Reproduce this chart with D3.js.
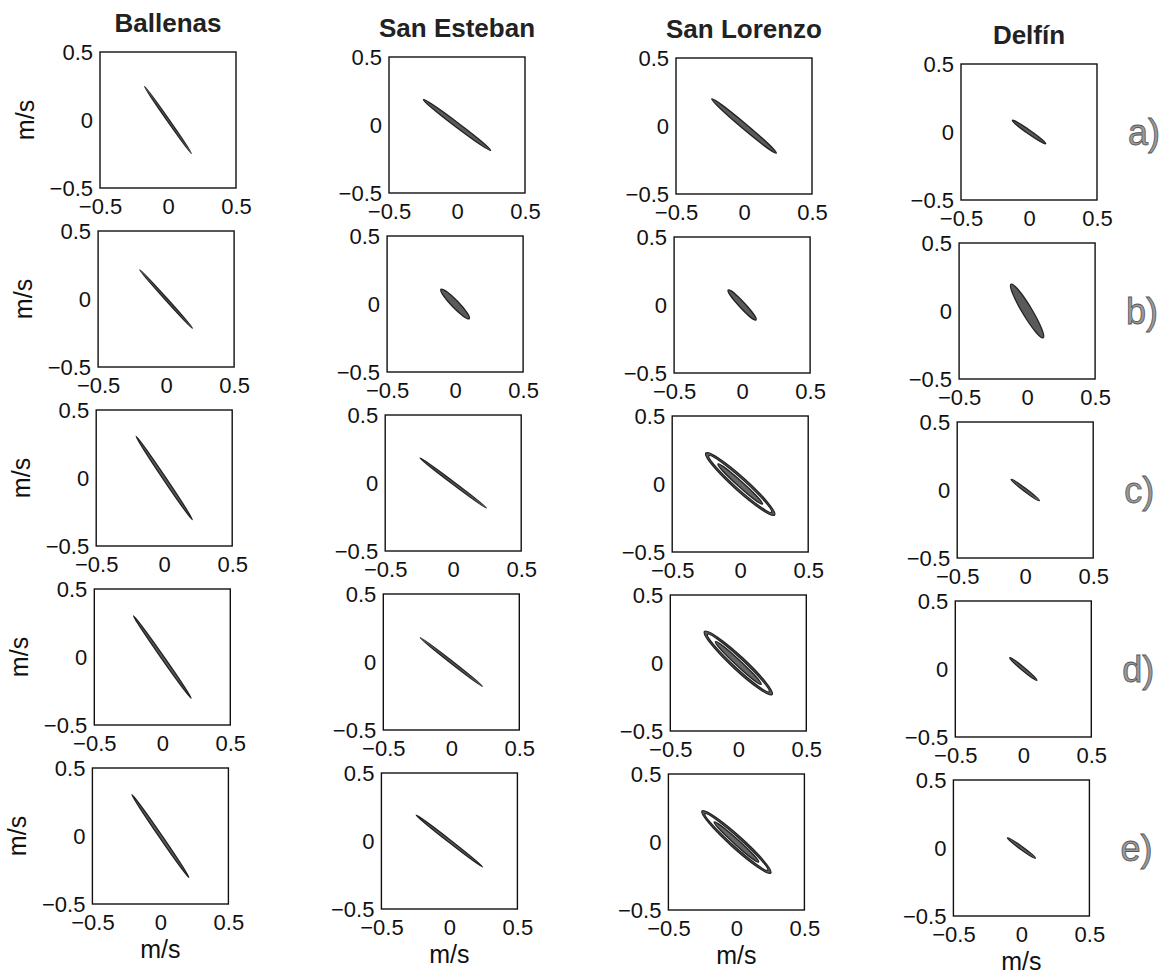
<!DOCTYPE html>
<meta charset="utf-8">
<style>
    body { margin: 0; background: #fff; }
    svg { display: block; }
    text { font-family: "Liberation Sans", Arial, sans-serif; fill: #111; }
    .tick text { font-size: 22px; }
    .title { font-size: 26px; font-weight: bold; fill: #222; }
    .unit { font-size: 25px; }
    .rowlab { font-size: 36px; fill: #9a9a9a; stroke: #555; stroke-width: 0.8px; }
</style>
<body>
<script src="https://cdn.jsdelivr.net/npm/d3@7"></script>
<script>
// sites (columns) and cases (rows)
var sites = ["Ballenas", "San Esteban", "San Lorenzo", "Delfín"];
var rowLabels = ["a)", "b)", "c)", "d)", "e)"];
var tickValues = [-0.5, 0, 0.5];

// ellipse semi-major axis (m/s), [site][row]
var semiMajor = [
    [0.30, 0.29, 0.37, 0.37, 0.37],
    [0.31, 0.15, 0.305, 0.29, 0.31],
    [0.31, 0.15, 0.34, 0.34, 0.34],
    [0.15, 0.23, 0.13, 0.13, 0.127]
];
// ellipse semi-minor axis (m/s)
var semiMinor = [
    [0.008, 0.008, 0.011, 0.011, 0.011],
    [0.017, 0.027, 0.009, 0.009, 0.01],
    [0.02, 0.022, 0.05, 0.05, 0.046],
    [0.014, 0.036, 0.011, 0.012, 0.011]
];
// inclination, degrees counterclockwise from east
var inclination = [
    [-55, -48, -56, -55, -55.5],
    [-37, -46, -37, -38, -38],
    [-40, -47, -42, -43, -42],
    [-35, -59, -37, -40, -36]
];
// inner ellipses seen inside the San Lorenzo c)-e) panels
var lorenzoInnerMajor = [[], [], [0.31, 0.22], [0.31, 0.23], [0.31, 0.22]];
var lorenzoInnerMinor = [[], [], [0.036, 0.02], [0.036, 0.021], [0.033, 0.019]];

var width = 1172, height = 976;
var box = 136;
// scanned page is a bit skewed, so every column has its own origin
var colLeft = [100, 389, 676, 961],
    colTop = [52, 57, 58, 64],
    rowStep = 179,
    rowDrift = -1.9;

var svg = d3.select("body").append("svg")
    .attr("width", width)
    .attr("height", height);

var x = d3.scaleLinear().domain([-0.5, 0.5]).range([0, box]);
var y = d3.scaleLinear().domain([-0.5, 0.5]).range([box, 0]);
var fmt = d3.format("");

sites.forEach(function(site, c) {
    // column title
    svg.append("text")
        .attr("class", "title")
        .attr("x", colLeft[c] + box / 2)
        .attr("y", colTop[c] - 20)
        .attr("text-anchor", "middle")
        .text(site);

    rowLabels.forEach(function(lab, r) {
        var px = colLeft[c] + rowDrift * r,
            py = colTop[c] + rowStep * r;
        var g = svg.append("g").attr("transform", "translate(" + px + "," + py + ")");

        var ax = g.append("g")
            .attr("transform", "translate(0," + box + ")")
            .call(d3.axisBottom(x).tickValues(tickValues).tickSize(0).tickPadding(10).tickFormat(fmt));
        var ay = g.append("g")
            .call(d3.axisLeft(y).tickValues(tickValues).tickSize(0).tickPadding(7).tickFormat(fmt));
        ax.select(".domain").remove();
        ay.select(".domain").remove();
        g.selectAll(".tick text").attr("font-family", null).attr("font-size", null);

        // ellipses (outer first)
        var ells = [{a: semiMajor[c][r], b: semiMinor[c][r], fill: "#5a5a5a"}];
        if (c === 2) {
            lorenzoInnerMajor[r].forEach(function(a, k) {
                ells.push({a: a, b: lorenzoInnerMinor[r][k], fill: k === 0 ? "#fff" : "#666"});
            });
        }
        g.selectAll("ellipse")
            .data(ells)
            .enter().append("ellipse")
            .attr("cx", x(0))
            .attr("cy", y(0))
            .attr("rx", function(d) { return x(d.a) - x(0); })
            .attr("ry", function(d) { return x(d.b) - x(0); })
            .attr("transform", "rotate(" + (-inclination[c][r]) + "," + x(0) + "," + y(0) + ")")
            .attr("fill", function(d) { return d.fill; })
            .attr("stroke", "#222")
            .attr("stroke-width", 1.3);

        g.append("rect")
            .attr("width", box)
            .attr("height", box)
            .attr("fill", "none")
            .attr("stroke", "#111")
            .attr("stroke-width", 1.4);

        // y unit on first column
        if (c === 0) {
            g.append("text")
                .attr("class", "unit")
                .attr("transform", "translate(-75," + box / 2 + ") rotate(-90)")
                .attr("text-anchor", "middle")
                .attr("dy", "0.35em")
                .text("m/s");
        }
        // x unit on last row
        if (r === rowLabels.length - 1) {
            g.append("text")
                .attr("class", "unit")
                .attr("x", box / 2)
                .attr("y", box + 54)
                .attr("text-anchor", "middle")
                .text("m/s");
        }
        // case letter right of last column
        if (c === sites.length - 1) {
            g.append("text")
                .attr("class", "rowlab")
                .attr("x", box + 31)
                .attr("y", box / 2)
                .attr("dy", "0.35em")
                .text(lab);
        }
    });
});
</script>
</body>
